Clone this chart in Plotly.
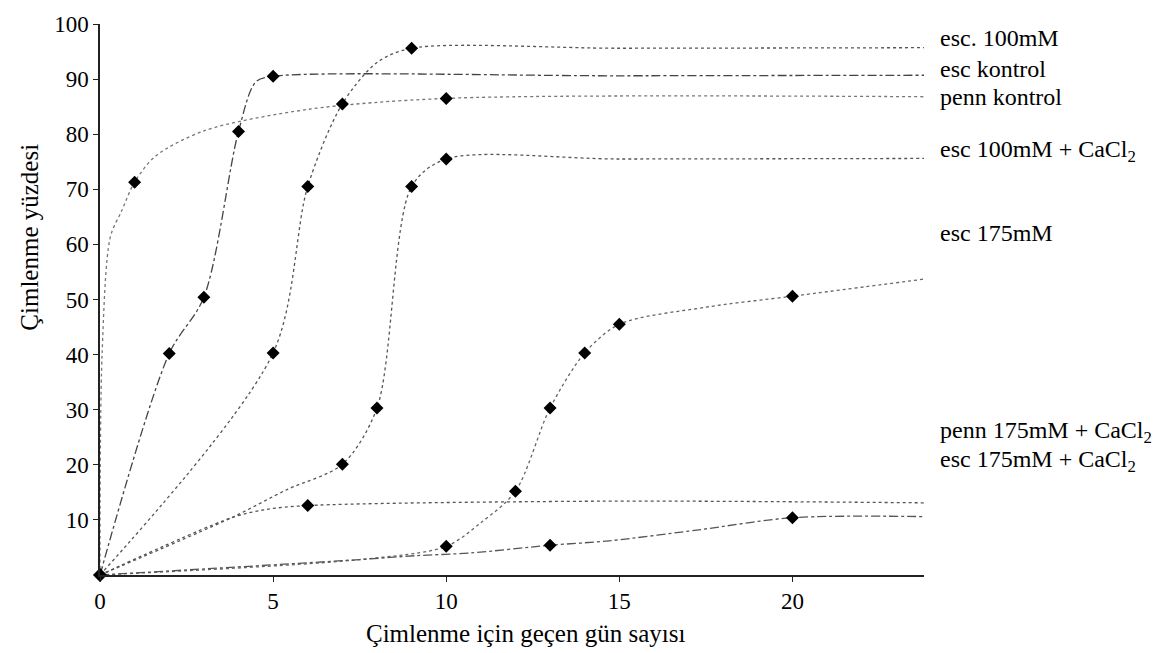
import plotly.graph_objects as go

# Cumulative germination (%) against days to germination.
# Each series lists the points its smoothed curve passes through;
# `*_marked` flags the points that carry a diamond marker.

esc_100_days = [0, 5, 6, 7, 8, 9, 15, 23.8]
esc_100_pct = [0, 40.3, 70.5, 85.5, 93.0, 95.6, 95.6, 95.7]
esc_100_marked = [1, 1, 1, 1, 0, 1, 0, 0]

esc_ctrl_days = [0, 2, 3, 4, 4.5, 5, 15, 23.8]
esc_ctrl_pct = [0, 40.2, 50.4, 80.5, 89.5, 90.5, 90.6, 90.7]
esc_ctrl_marked = [1, 1, 1, 1, 0, 1, 0, 0]

penn_ctrl_days = [0, 0.06, 0.3, 0.62, 1, 1.6, 3, 6, 10, 23.8]
penn_ctrl_pct = [0, 40.0, 61.4, 66.0, 71.3, 76.0, 80.6, 84.5, 86.5, 86.8]
penn_ctrl_marked = [1, 0, 0, 0, 1, 0, 0, 0, 1, 0]

esc_100_ca_days = [0, 3.8, 5.4, 7, 8, 9, 10, 15, 23.8]
esc_100_ca_pct = [0, 10.4, 15.5, 20.1, 30.3, 70.5, 75.5, 75.5, 75.6]
esc_100_ca_marked = [1, 0, 0, 1, 1, 1, 1, 0, 0]

esc_175_days = [0, 7.5, 10, 11, 12, 13, 14, 15, 17.5, 20, 23.8]
esc_175_pct = [0, 2.8, 5.2, 9.5, 15.2, 30.3, 40.3, 45.5, 48.6, 50.6, 53.7]
esc_175_marked = [1, 0, 1, 0, 1, 1, 1, 1, 0, 1, 0]

penn_175_ca_days = [0, 3.8, 4.8, 6, 14.5, 23.8]
penn_175_ca_pct = [0, 10.4, 11.9, 12.6, 13.4, 13.1]
penn_175_ca_marked = [1, 0, 0, 1, 0, 0]

esc_175_ca_days = [0, 7.5, 9.1, 10.7, 13, 14.7, 17.3, 20, 23.8]
esc_175_ca_pct = [0, 2.8, 3.5, 4.0, 5.4, 6.2, 8.2, 10.4, 10.6]
esc_175_ca_marked = [1, 0, 0, 0, 1, 0, 0, 1, 0]

series_labels = [
    "esc. 100mM",
    "esc kontrol",
    "penn kontrol",
    "esc 100mM + CaCl<sub>2</sub>",
    "esc 175mM",
    "penn 175mM + CaCl<sub>2</sub>",
    "esc 175mM + CaCl<sub>2</sub>",
]

x_ticks = [0, 5, 10, 15, 20]
y_ticks = [10, 20, 30, 40, 50, 60, 70, 80, 90, 100]

series = [
    (esc_100_days, esc_100_pct, esc_100_marked),
    (esc_ctrl_days, esc_ctrl_pct, esc_ctrl_marked),
    (penn_ctrl_days, penn_ctrl_pct, penn_ctrl_marked),
    (esc_100_ca_days, esc_100_ca_pct, esc_100_ca_marked),
    (esc_175_days, esc_175_pct, esc_175_marked),
    (penn_175_ca_days, penn_175_ca_pct, penn_175_ca_marked),
    (esc_175_ca_days, esc_175_ca_pct, esc_175_ca_marked),
]

# line look per series, and where each right-hand label sits (in % units)
line_styles = [
    dict(color="#555555", dash="dot"),
    dict(color="#444444", dash="dashdot"),
    dict(color="#777777", dash="dot"),
    dict(color="#555555", dash="dot"),
    dict(color="#666666", dash="dot"),
    dict(color="#555555", dash="dot"),
    dict(color="#555555", dash="dashdot"),
]
label_y = [97.5, 91.8, 86.8, 76.9, 62.0, 26.0, 20.6]

FONT = "Liberation Serif, Times New Roman, serif"

fig = go.Figure()
for (days, pct, marked), style in zip(series, line_styles):
    fig.add_trace(go.Scatter(
        x=days, y=pct, mode="lines",
        line=dict(shape="spline", smoothing=0.85, width=1.3, **style),
        hoverinfo="skip", cliponaxis=False,
    ))
for (days, pct, marked), name in zip(series, series_labels):
    fig.add_trace(go.Scatter(
        x=[d for d, m in zip(days, marked) if m],
        y=[p for p, m in zip(pct, marked) if m],
        mode="markers",
        marker=dict(symbol="diamond", size=10, color="black"),
        name=name, cliponaxis=False,
    ))

for name, ly in zip(series_labels, label_y):
    fig.add_annotation(
        text=name, xref="paper", yref="y", x=1.017, y=ly,
        xanchor="left", yanchor="middle", showarrow=False,
        font=dict(family=FONT, size=24, color="black"),
    )

fig.add_annotation(
    text="Çimlenme yüzdesi", xref="paper", yref="paper",
    x=-0.085, y=0.614, textangle=-90, showarrow=False,
    xanchor="center", yanchor="middle",
    font=dict(family=FONT, size=25, color="black"),
)
fig.add_annotation(
    text="Çimlenme için geçen gün sayısı", xref="x", yref="paper",
    x=12.28, y=-0.107, showarrow=False,
    xanchor="center", yanchor="middle",
    font=dict(family=FONT, size=25, color="black"),
)

fig.update_layout(
    width=1168, height=653,
    margin=dict(l=100, r=244, t=16, b=78),
    paper_bgcolor="white", plot_bgcolor="white",
    showlegend=False,
    font=dict(family=FONT, color="black"),
)
fig.update_xaxes(
    range=[0, 23.8], tickvals=x_ticks, ticks="outside", ticklen=5,
    tickcolor="#222", showline=True, linecolor="#222", linewidth=1.5,
    showgrid=False, zeroline=False,
    tickfont=dict(family=FONT, size=23, color="black"),
)
fig.update_yaxes(
    range=[0, 100], tickvals=y_ticks, ticks="outside", ticklen=5,
    tickcolor="#222", showline=True, linecolor="#222", linewidth=1.5,
    showgrid=False, zeroline=False,
    tickfont=dict(family=FONT, size=23, color="black"),
)

fig.write_html("out.html")
